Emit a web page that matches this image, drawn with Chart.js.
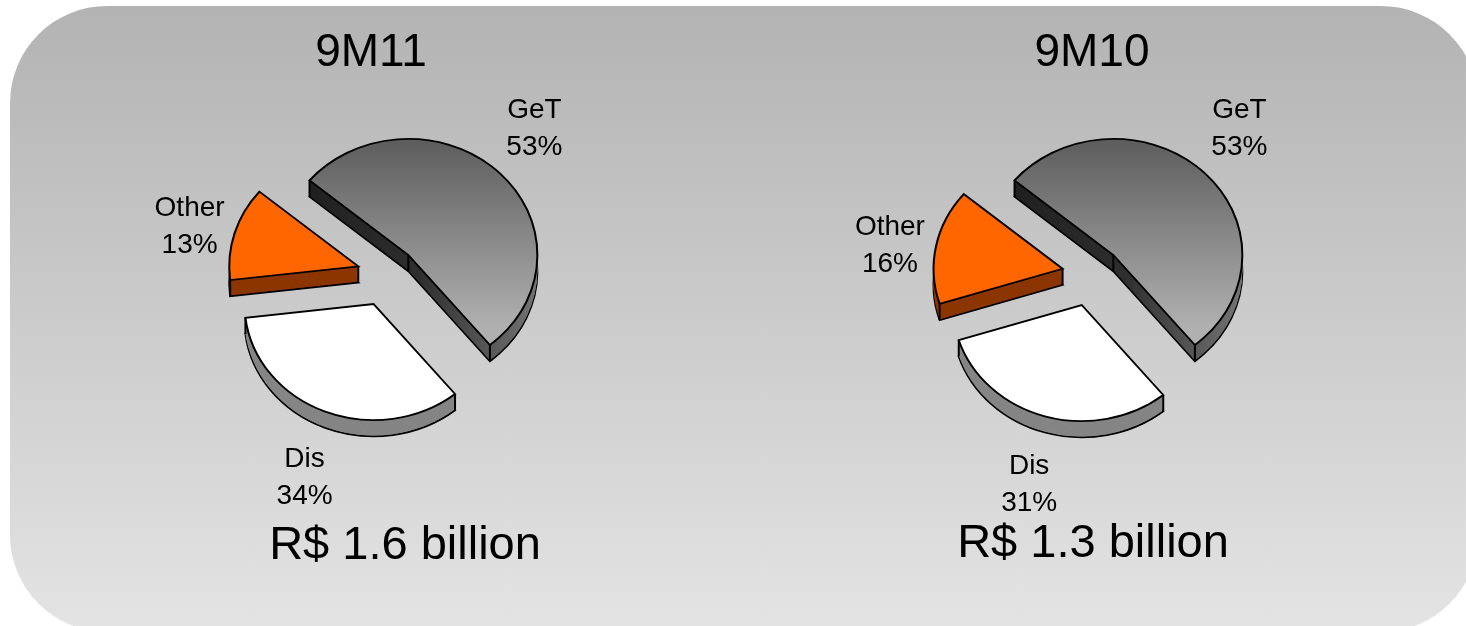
<!DOCTYPE html>
<html>
<head>
<meta charset="utf-8">
<title>Revenue split</title>
<script src="https://cdn.jsdelivr.net/npm/chart.js@4.4.0/dist/chart.umd.min.js"></script>
<style>
  html, body { margin: 0; padding: 0; background: #fff; }
  body { width: 1466px; height: 626px; position: relative; overflow: hidden;
         font-family: "Liberation Sans", Arial, sans-serif; }
  #panel { position: absolute; left: 10px; top: 6px; width: 1468px; height: 626px;
           border-radius: 97px; background: linear-gradient(#b3b3b3, #e4e4e4); }
  canvas { position: absolute; top: -6px; }
  #pieA { left: 37px; }
  #pieB { left: 742px; }
  .txt { position: absolute; width: 400px; text-align: center; line-height: 1;
         color: #000; white-space: nowrap; }
  .period { font-size: 46px; top: 27px; }
  .total { font-size: 47px; }
</style>
</head>
<body>
<div id="panel"></div>
<canvas id="pieA" width="700" height="560"></canvas>
<canvas id="pieB" width="700" height="560"></canvas>
<div id="p0" class="txt period" style="left:171px"></div>
<div id="p1" class="txt period" style="left:892px"></div>
<div id="t0" class="txt total" style="left:205px; top:519px"></div>
<div id="t1" class="txt total" style="left:893px; top:517px"></div>

<script>
// data
const segments = ['GeT', 'Dis', 'Other'];
const share9M11 = [53, 34, 13];
const share9M10 = [53, 31, 16];
const periods = ['9M11', '9M10'];
const totals = ['R$ 1.6 billion', 'R$ 1.3 billion'];

// look of the 3d pies
const SQUASH = 0.9;          // vertical tilt
const DEPTH = 16;            // thickness in screen px
const explode = [30, 36, 30];
const labelDist = [207, 220, 206];
const labelNudge = [0, 0, 12]; // push the Other label down a bit
const topColors = [null, '#ffffff', '#ff6600'];
const sideColors = [null, '#858585', '#8c3600'];
const EDGE = 2;

function center(chart) {
    const a = chart.chartArea;
    return { cx: (a.left + a.right) / 2, cy: (a.top + a.bottom) / 2 };
}

// grey gradient on top of the GeT slice
function topFill(c) {
    if (c.dataIndex !== 0) return topColors[c.dataIndex];
    const chart = c.chart;
    if (!chart.chartArea) return '#808080';
    const { cy } = center(chart);
    const g = chart.ctx.createLinearGradient(0, cy - 150, 0, cy + 80);
    g.addColorStop(0, '#545454');
    g.addColorStop(1, '#b0b0b0');
    return g;
}

function sideFill(chart, i) {
    if (i !== 0) return sideColors[i];
    const { cx } = center(chart);
    const g = chart.ctx.createLinearGradient(cx - 130, 0, cx + 150, 0);
    g.addColorStop(0, '#1c1c1c');
    g.addColorStop(0.5, '#2e2e2e');
    g.addColorStop(1, '#808080');
    return g;
}

const pie3d = {
    id: 'pie3d',
    beforeDatasetsDraw(chart) {
        const ctx = chart.ctx;
        const { cx, cy } = center(chart);
        ctx.save();
        ctx.translate(cx, cy);
        ctx.scale(1, SQUASH);
        ctx.translate(-cx, -cy);
    },
    beforeDatasetDraw(chart, args) {
        const ctx = chart.ctx;
        const arcs = args.meta.data;
        const steps = Math.ceil(DEPTH / SQUASH);
        // sides first: the slice pushed down layer by layer
        arcs.forEach((arc, i) => {
            const mid = (arc.startAngle + arc.endAngle) / 2;
            const ox = Math.cos(mid) * explode[i];
            const oy = Math.sin(mid) * explode[i];
            const base = arc.options;
            const fill = sideFill(chart, i);
            for (let k = steps; k >= 1; k--) {
                arc.options = Object.assign({}, base, {
                    backgroundColor: fill,
                    borderColor: '#000',
                    borderWidth: k === steps ? EDGE : 0
                });
                ctx.save();
                ctx.translate(ox, oy + k);
                arc.draw(ctx);
                ctx.restore();
            }
            arc.options = base;
            // vertical edges at the apex and the two outer corners
            const r = arc.outerRadius;
            const pts = [[arc.x, arc.y],
                [arc.x + Math.cos(arc.startAngle) * r, arc.y + Math.sin(arc.startAngle) * r],
                [arc.x + Math.cos(arc.endAngle) * r, arc.y + Math.sin(arc.endAngle) * r]];
            ctx.save();
            ctx.translate(ox, oy);
            ctx.strokeStyle = '#000';
            ctx.lineWidth = EDGE;
            ctx.beginPath();
            pts.forEach(p => { ctx.moveTo(p[0], p[1]); ctx.lineTo(p[0], p[1] + steps); });
            ctx.stroke();
            ctx.restore();
        });
        // then the top faces
        arcs.forEach((arc, i) => {
            const mid = (arc.startAngle + arc.endAngle) / 2;
            ctx.save();
            ctx.translate(Math.cos(mid) * explode[i], Math.sin(mid) * explode[i]);
            arc.draw(ctx);
            ctx.restore();
        });
        return false;
    },
    afterDatasetsDraw(chart) {
        const ctx = chart.ctx;
        ctx.restore();
        const values = chart.data.datasets[0].data;
        ctx.save();
        ctx.font = '28px "Liberation Sans", Arial, sans-serif';
        ctx.fillStyle = '#000';
        ctx.textAlign = 'center';
        ctx.textBaseline = 'middle';
        chart.getDatasetMeta(0).data.forEach((arc, i) => {
            const mid = (arc.startAngle + arc.endAngle) / 2;
            const px = arc.x + Math.cos(mid) * labelDist[i];
            const py = arc.y + Math.sin(mid) * labelDist[i] + labelNudge[i];
            ctx.fillText(chart.data.labels[i], px, py - 18.5);
            ctx.fillText(values[i] + '%', px, py + 18.5);
        });
        ctx.restore();
    }
};

function makePie(id, values) {
    return new Chart(document.getElementById(id), {
        type: 'pie',
        data: {
            labels: segments,
            datasets: [{
                data: values,
                backgroundColor: topFill,
                borderColor: '#000',
                borderWidth: EDGE,
                borderJoinStyle: 'miter'
            }]
        },
        options: {
            responsive: false,
            animation: false,
            events: [],
            radius: 129,
            rotation: -50,
            layout: { padding: 0 },
            plugins: {
                legend: { display: false },
                tooltip: { enabled: false }
            }
        },
        plugins: [pie3d]
    });
}

makePie('pieA', share9M11);
makePie('pieB', share9M10);

periods.forEach((p, i) => { document.getElementById('p' + i).textContent = p; });
totals.forEach((t, i) => { document.getElementById('t' + i).textContent = t; });
</script>
</body>
</html>
